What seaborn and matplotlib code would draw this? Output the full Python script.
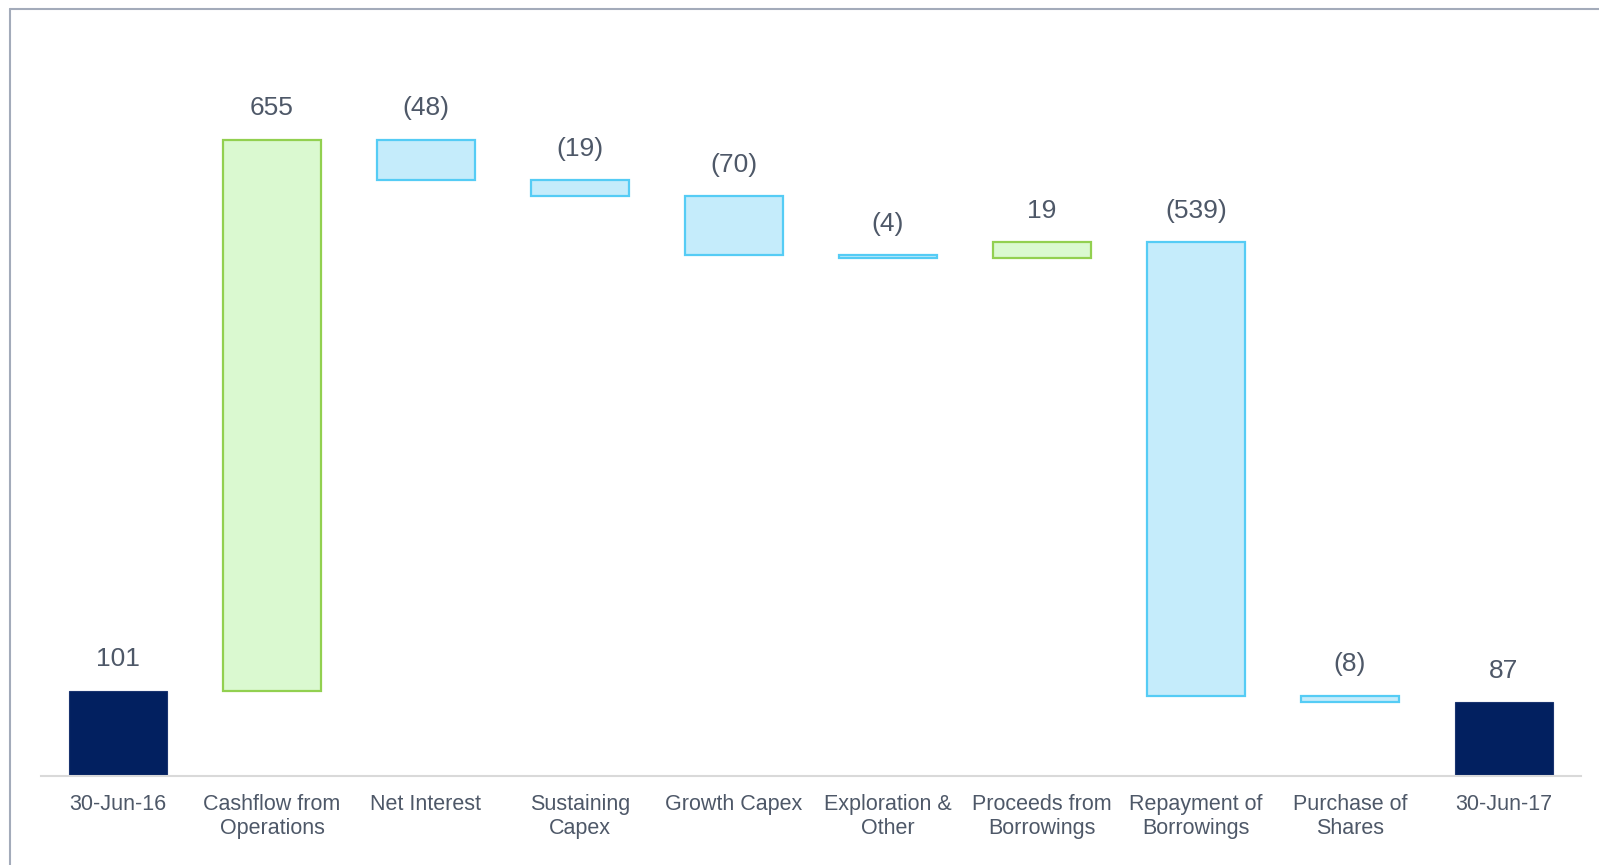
import numpy as np
import pandas as pd
import matplotlib
matplotlib.use("Agg")
import matplotlib.pyplot as plt
import seaborn as sns
from matplotlib.lines import Line2D

categories = ["30-Jun-16", "Cashflow from\nOperations", "Net Interest", "Sustaining\nCapex",
              "Growth Capex", "Exploration &\nOther", "Proceeds from\nBorrowings",
              "Repayment of\nBorrowings", "Purchase of\nShares", "30-Jun-17"]
changes = [101, 655, -48, -19, -70, -4, 19, -539, -8, 87]
is_total = [True, False, False, False, False, False, False, False, False, True]

# waterfall geometry from the data
bottoms, tops = [], []
running = 0
for v, t in zip(changes, is_total):
    if t:
        bottoms.append(0); tops.append(v); running = v
    else:
        new = running + v
        bottoms.append(min(running, new)); tops.append(max(running, new)); running = new
df = pd.DataFrame({"cat": categories, "height": np.array(tops) - np.array(bottoms),
                   "bottom": bottoms, "top": tops, "change": changes, "total": is_total})

sns.set_theme(style="white")
plt.rcParams["font.family"] = ["Liberation Sans", "DejaVu Sans"]

fig = plt.figure(figsize=(15.99, 8.65), dpi=100)
ax = fig.add_axes([41 / 1599, 1 - 775.6 / 865, (1581 - 41) / 1599, (775.6 - 8) / 865])

sns.barplot(data=df, x="cat", y="height", ax=ax, width=0.63, errorbar=None,
            color="#C5ECFB", linewidth=1.6)

navy = "#022060"
for p, (_, r) in zip(ax.patches, df.iterrows()):
    p.set_y(r["bottom"])
    if r["total"]:
        p.set_facecolor(navy); p.set_edgecolor("#1A3470"); p.set_linewidth(0.8)
    elif r["change"] > 0:
        p.set_facecolor("#DAF9D0"); p.set_edgecolor("#92D050")
    else:
        p.set_facecolor("#C5ECFB"); p.set_edgecolor("#55CCF5")
    lab = f"{r['change']}" if r["change"] >= 0 else f"({-r['change']})"
    ax.annotate(lab, (p.get_x() + p.get_width() / 2, r["top"]), xytext=(0, 14),
                textcoords="offset points", ha="center", va="bottom",
                fontsize=19, color="#4E5868")

ax.set_xlim(-0.5, len(categories) - 0.5)
ax.set_ylim(0, 767.6 / 0.841)
ax.set_xlabel(""); ax.set_ylabel("")
ax.set_yticks([])
for s in ["top", "right", "left"]:
    ax.spines[s].set_visible(False)
ax.spines["bottom"].set_color("#D9D9D9")
ax.spines["bottom"].set_linewidth(1.5)
ax.tick_params(axis="x", length=0, pad=13, labelsize=15.5, labelcolor="#4E5868")
for t in ax.get_xticklabels():
    t.set_linespacing(1.18)

# outer frame lines
fig.add_artist(Line2D([9.5 / 1599, 9.5 / 1599], [0, 1 - 8.5 / 865], color="#A3ABBA", lw=1.5,
                      transform=fig.transFigure))
fig.add_artist(Line2D([9.5 / 1599, 1], [1 - 8.5 / 865, 1 - 8.5 / 865], color="#A3ABBA", lw=1.5,
                      transform=fig.transFigure))

fig.savefig("out.png", dpi=100)
